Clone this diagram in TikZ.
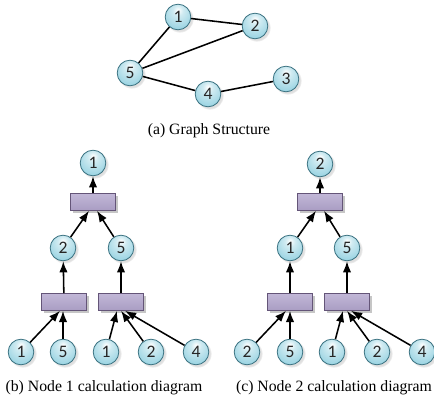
\documentclass[tikz,border=0pt]{standalone}
\usepackage{fontspec}
\setmainfont{Liberation Serif}
\newfontfamily\ballfont{Carlito}
\usetikzlibrary{arrows.meta,shadows}

\definecolor{ballblue}{RGB}{150,210,225}
\definecolor{ballrim}{RGB}{60,115,130}
\definecolor{boxlilac}{RGB}{178,165,205}
\definecolor{boxrim}{RGB}{100,85,120}

\pgfdeclareradialshading{sphere}{\pgfpoint{0bp}{14bp}}{%
  color(0bp)=(white); color(10bp)=(ballblue!45!white);
  color(34bp)=(ballblue); color(46bp)=(ballblue!75!ballrim);
  color(60bp)=(ballrim); color(80bp)=(ballrim)}

\begin{document}
\begin{tikzpicture}[x=0.025cm,y=-0.025cm,>=Latex,
    vert/.style={circle,draw=ballrim,line width=0.6pt,shading=sphere,
      minimum size=0.64cm,inner sep=0pt,font=\ballfont\fontsize{12.5}{13}\selectfont,text=black!85,
      circular drop shadow={shadow xshift=0.4mm,shadow yshift=-0.4mm,opacity=0.25}},
    agg/.style={rectangle,draw=boxrim,line width=0.6pt,top color=boxlilac!80!white,
      bottom color=boxlilac!95!black,minimum width=1.13cm,minimum height=0.42cm,
      drop shadow={shadow xshift=0.6mm,shadow yshift=-0.6mm,opacity=0.45}},
    link/.style={line width=1.1pt},
    msg/.style={->,line width=1.1pt},
    subcap/.style={font=\fontsize{11.2}{13}\selectfont}]
  \useasboundingbox (0,0) rectangle (434,406);

  % graph
  \node[vert] (g1) at (178,17) {1};
  \node[vert] (g2) at (255,26) {2};
  \node[vert] (g5) at (130,73) {5};
  \node[vert] (g4) at (208,94) {4};
  \node[vert] (g3) at (286,79) {3};
  \draw[link] (g1) -- (g2);
  \draw[link] (g1) -- (g5);
  \draw[link] (g5) -- (g2);
  \draw[link] (g5) -- (g4);
  \draw[link] (g4) -- (g3);
  \node[subcap] (capa) at (209,131) {(a) Graph Structure};

  % node 1
  \node[vert] (b1) at (93,163) {1};
  \node[agg] (bagg) at (93,202) {};
  \node[vert] (b2) at (63,248) {2};
  \node[vert] (b5) at (121,248) {5};
  \node[agg] (bagg2) at (64,302) {};
  \node[agg] (bagg5) at (121,302) {};
  \node[vert] (bl1) at (21,352) {1};
  \node[vert] (bl5) at (63,352) {5};
  \node[vert] (br1) at (106,352) {1};
  \node[vert] (br2) at (151,352) {2};
  \node[vert] (br4) at (196,352) {4};
  \draw[msg] (bagg) -- (b1);
  \draw[msg] (b2) -- ([xshift=-1mm]bagg.south);
  \draw[msg] (b5) -- ([xshift=1mm]bagg.south);
  \draw[msg] (bagg2) -- (b2);
  \draw[msg] (bagg5) -- (b5);
  \draw[msg] (bl1) -- ([xshift=-1mm]bagg2.south);
  \draw[msg] (bl5) -- (bl5 |- bagg2.south);
  \draw[msg] (br1) -- ([xshift=-1mm]bagg5.south);
  \draw[msg] (br2) -- (bagg5.south);
  \draw[msg] (br4) -- ([xshift=1mm]bagg5.south);
  \node[subcap] (capb) at (104,388) {(b) Node 1 calculation diagram};

  % node 2
  \node[vert] (c2) at (320,164) {2};
  \node[agg] (cagg) at (320,202) {};
  \node[vert] (c1) at (290,248) {1};
  \node[vert] (c5) at (347,248) {5};
  \node[agg] (cagg1) at (290,302) {};
  \node[agg] (cagg5) at (347,302) {};
  \node[vert] (cl2) at (247,352) {2};
  \node[vert] (cl5) at (290,352) {5};
  \node[vert] (cr1) at (332,352) {1};
  \node[vert] (cr2) at (377,352) {2};
  \node[vert] (cr4) at (422,352) {4};
  \draw[msg] (cagg) -- (c2);
  \draw[msg] (c1) -- ([xshift=-1mm]cagg.south);
  \draw[msg] (c5) -- ([xshift=1mm]cagg.south);
  \draw[msg] (cagg1) -- (c1);
  \draw[msg] (cagg5) -- (c5);
  \draw[msg] (cl2) -- ([xshift=-1mm]cagg1.south);
  \draw[msg] (cl5) -- (cl5 |- cagg1.south);
  \draw[msg] (cr1) -- ([xshift=-1mm]cagg5.south);
  \draw[msg] (cr2) -- (cagg5.south);
  \draw[msg] (cr4) -- ([xshift=1mm]cagg5.south);
  \node[subcap] (capc) at (334,388) {(c) Node 2 calculation diagram};
\end{tikzpicture}
\end{document}
